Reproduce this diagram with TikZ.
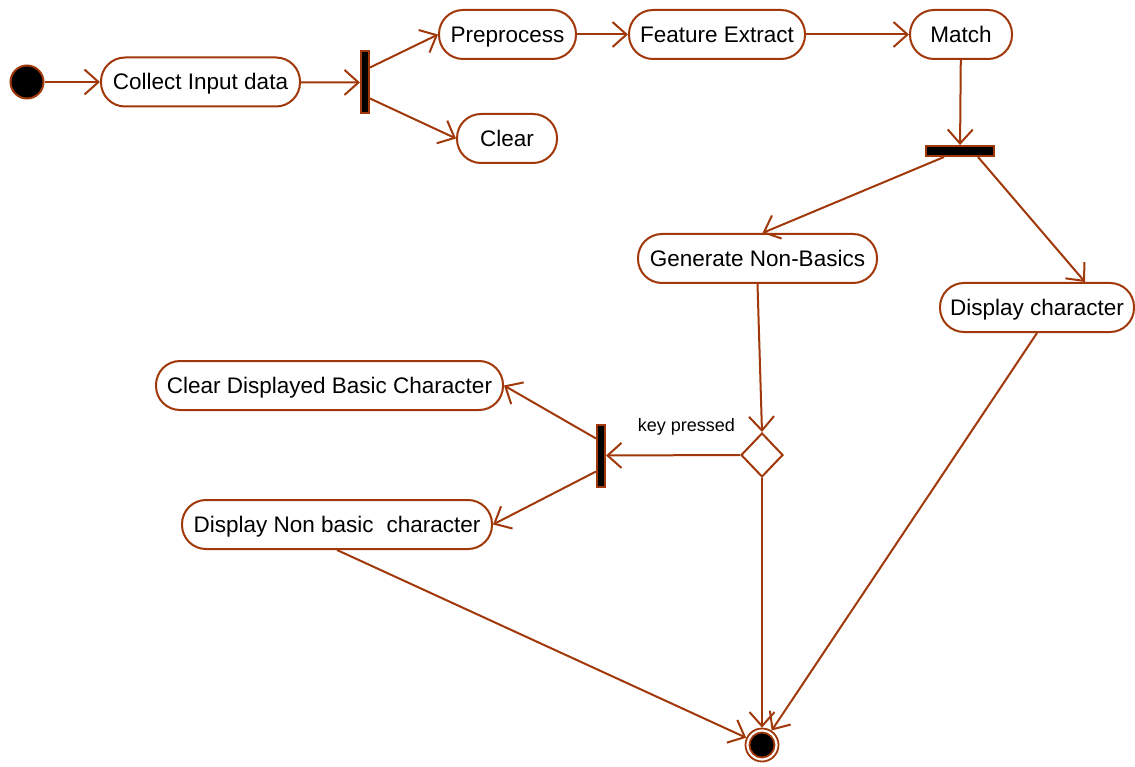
\documentclass[tikz,border=0pt]{standalone}
\usepackage{fontspec}
\setmainfont{Liberation Sans}
\usetikzlibrary{arrows.meta,shapes.geometric,calc}
\definecolor{umlbrown}{RGB}{160,56,10}
\tikzset{
  action/.style={draw=umlbrown, line width=2pt, fill=white, rectangle,
    rounded corners=24pt, minimum height=49pt, inner sep=0pt,
    text height=18pt, text depth=2.5pt,
    font=\fontsize{22.5}{27}\selectfont},
  bar/.style={draw=umlbrown, line width=2pt, fill=black, rectangle, inner sep=0pt},
  flow/.style={draw=umlbrown, line width=2pt,
    -{Straight Barb[length=14pt,width=25pt,line width=2pt]}},
  decision/.style={draw=umlbrown, line width=2pt, fill=white, diamond,
    minimum width=42pt, minimum height=44pt, inner sep=0pt},
}
\begin{document}
\begin{tikzpicture}[x=1pt,y=-1pt]
\useasboundingbox (0,0) rectangle (1135,767);

% start and end markers
\node[circle, draw=umlbrown, line width=2pt, fill=black, minimum size=33pt, inner sep=0pt] (init) at (27,82) {};
\node[circle, draw=umlbrown, line width=1.8pt, fill=white, minimum size=33pt, inner sep=0pt] (final) at (762,745) {};
\node[circle, draw=umlbrown, line width=1.8pt, fill=black, minimum size=25pt, inner sep=0pt] at (762,745) {};

% actions
\node[action, minimum width=199pt] (collect) at (200.5,82) {Collect Input data};
\node[action, minimum width=137pt] (pre) at (507.5,34.5) {Preprocess};
\node[action, minimum width=100pt] (clear) at (507,138.5) {Clear};
\node[action, minimum width=176pt] (feat) at (717,34.5) {Feature Extract};
\node[action, minimum width=102pt] (match) at (961,34.5) {Match};
\node[action, minimum width=239pt] (gen) at (757.5,258.5) {Generate Non-Basics};
\node[action, minimum width=194pt] (dispc) at (1037,307.5) {Display character};
\node[action, minimum width=347pt] (cdb) at (329.5,385.5) {Clear Displayed Basic Character};
\node[action, minimum width=310pt] (dnb) at (337,524.5) {Display Non basic\hspace{0.3em} character};

% synchronisation bars
\node[bar, minimum width=8pt, minimum height=62pt] (bar1) at (365,82.5) {};
\node[bar, minimum width=68pt, minimum height=10pt] (bar2) at (960,151) {};
\node[bar, minimum width=8pt, minimum height=62pt] (bar3) at (601,455.5) {};

% decision
\node[decision] (dec) at (762,455) {};
\node[font=\fontsize{18}{21}\selectfont] (keylbl) at (686.5,427) {key pressed};

% flows
\draw[flow] (init) -- (collect);
\draw[flow] (collect) -- (bar1);
\draw[flow] ($(bar1.east)+(0,-15)$) -- (pre.west);
\draw[flow] ($(bar1.east)+(0,16)$) -- (clear.west);
\draw[flow] (pre) -- (feat);
\draw[flow] (feat) -- (match);
\draw[flow] (match) -- (bar2);
\draw[flow] ($(bar2.south)+(-16,0)$) -- ($(gen.north)+(5,0)$);
\draw[flow] ($(bar2.south)+(18,0)$) -- ($(dispc.north)+(48,0)$);
\draw[flow] (gen.south) -- (dec.north);
\draw[flow] (dec.west) -- (bar3.east);
\draw[flow] ($(bar3.west)+(0,-17)$) -- (cdb.east);
\draw[flow] ($(bar3.west)+(0,16)$) -- (dnb.east);
\draw[flow] (dnb.south) -- (final);
\draw[flow] (dec.south) -- (final.north);
\draw[flow] (dispc.south) -- (final);
\end{tikzpicture}
\end{document}
